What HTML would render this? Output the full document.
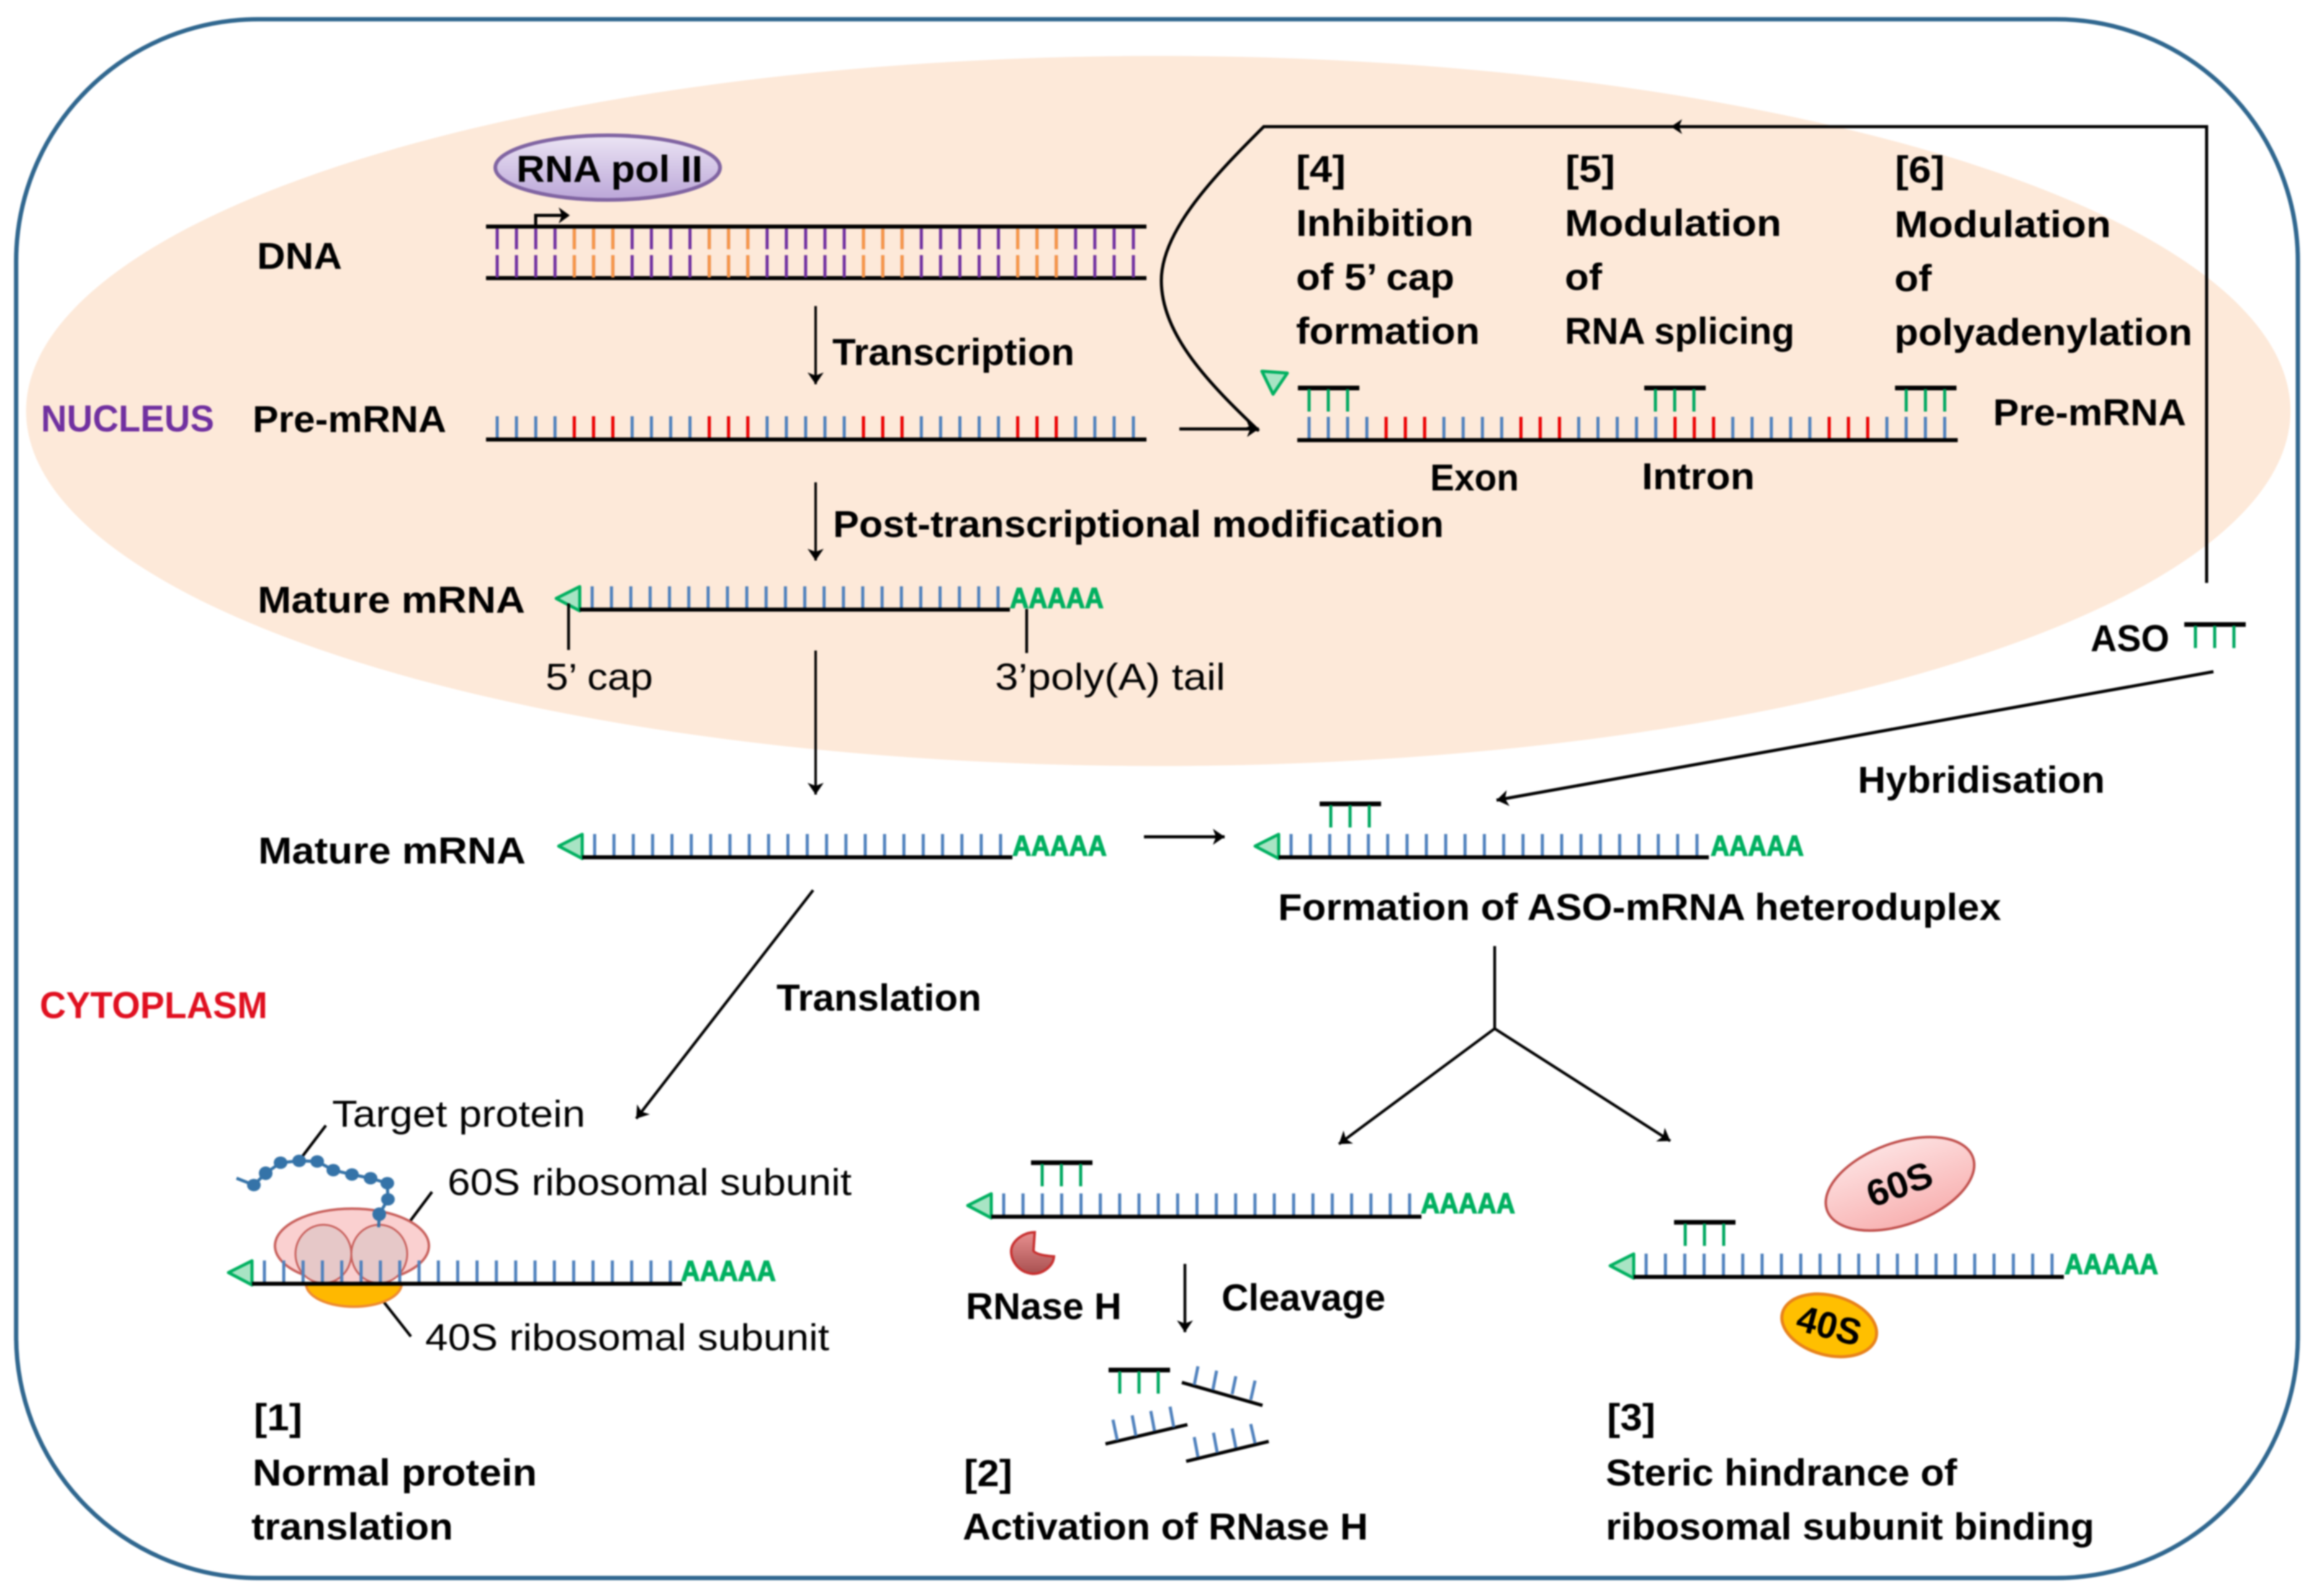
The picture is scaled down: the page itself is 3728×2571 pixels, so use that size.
<!DOCTYPE html>
<html><head><meta charset="utf-8"><style>
html,body{margin:0;padding:0;background:#fff}
svg{display:block;filter:blur(1.4px)}
text{font-family:"Liberation Sans",sans-serif;font-size:60px;fill:#000}
.b{font-weight:700}
.a{font-weight:700;font-size:46px;fill:#00b060;stroke:#00b060;stroke-width:1.5px}
.k{stroke:#000;fill:none}
.blue{stroke:#4f81bd;fill:none}
.grn{stroke:#00a860;fill:none}
</style></head><body>
<svg xmlns="http://www.w3.org/2000/svg" width="3728" height="2571" viewBox="0 0 3728 2571">
<defs>
<marker id="ar" markerUnits="userSpaceOnUse" markerWidth="32" markerHeight="32" refX="21" refY="16" orient="auto" viewBox="0 0 32 32"><path d="M2 3L21 16L2 29L7 16Z" fill="#000"/></marker>
<linearGradient id="gp" x1="0" y1="0" x2="0" y2="1"><stop offset="0" stop-color="#ece5f4"/><stop offset="1" stop-color="#bba6d8"/></linearGradient>
<linearGradient id="gr" x1="0" y1="0" x2="0" y2="1"><stop offset="0" stop-color="#fde0e0"/><stop offset="1" stop-color="#f8b2b2"/></linearGradient>
<linearGradient id="gh" x1="0" y1="0" x2="0" y2="1"><stop offset="0" stop-color="#e89090"/><stop offset="1" stop-color="#a85050"/></linearGradient>
<g id="mrna">
<line x1="16.5" x2="675.5" y1="-19" y2="-19" class="blue" stroke-width="37" stroke-dasharray="5 26.14"/>
<path d="M-1 -37L-39 -18L-1 2Z" fill="#a8e4c4" stroke="#00b060" stroke-width="5" stroke-linejoin="round"/>
<line x1="-1" x2="692" y1="0" y2="0" class="k" stroke-width="6.5"/>
</g>
<g id="aso">
<line x1="0" x2="99" y1="0" y2="0" class="k" stroke-width="7.5"/>
<path d="M18 2V38M49 2V38M80 2V38" class="grn" stroke-width="5"/>
</g>
</defs>

<rect width="3728" height="2571" fill="#fff"/>
<ellipse cx="1866" cy="662" rx="1824" ry="572" fill="#fde9d9"/>
<rect x="26" y="31" width="3676" height="2511" rx="390" ry="390" fill="none" stroke="#30678f" stroke-width="7"/>

<!-- RNA pol II -->
<ellipse cx="979" cy="270" rx="181" ry="52" fill="url(#gp)" stroke="#8064a2" stroke-width="6"/>
<text class="b" x="832" y="293" textLength="300" lengthAdjust="spacingAndGlyphs">RNA pol II</text>

<!-- DNA -->
<line x1="783" x2="1847" y1="365" y2="365" class="k" stroke-width="6.5"/>
<line x1="783" x2="1847" y1="448" y2="448" class="k" stroke-width="6.5"/>
<g stroke-width="33" fill="none" stroke="#7030a0" stroke-dasharray="5 26.06">
<line x1="798.5" x2="1828.5" y1="385" y2="385"/>
<line x1="798.5" x2="1828.5" y1="429" y2="429" stroke-width="36"/>
</g>
<g stroke="#f79646" fill="none" stroke-dasharray="5 26.06" stroke-width="33">
<path d="M922.7 385H989.9M1140.2 385H1207.3M1388.6 385H1455.8M1637.1 385H1704.2"/>
<path d="M922.7 429H989.9M1140.2 429H1207.3M1388.6 429H1455.8M1637.1 429H1704.2" stroke-width="36"/>
</g>
<path d="M863 366V347H912" class="k" stroke-width="5"/>
<path d="M900 334L918 347L900 360L905 347Z" fill="#000"/>
<text class="b" x="414" y="433" textLength="137" lengthAdjust="spacingAndGlyphs">DNA</text>

<!-- arrows left column -->
<line x1="1314" y1="493" x2="1314" y2="619" class="k" stroke-width="4" marker-end="url(#ar)"/>
<text class="b" x="1341" y="588" textLength="390" lengthAdjust="spacingAndGlyphs">Transcription</text>

<!-- pre-mRNA left -->
<line x1="798.5" x2="1828.5" y1="689" y2="689" class="blue" stroke-width="37" stroke-dasharray="5 26.06"/>
<path d="M922.7 689H989.9M1140.2 689H1207.3M1388.6 689H1455.8M1637.1 689H1704.2" fill="none" stroke="#f00000" stroke-width="37" stroke-dasharray="5 26.06"/>
<line x1="783" x2="1847" y1="708" y2="708" class="k" stroke-width="6.5"/>
<text class="b" x="66" y="695" textLength="279" lengthAdjust="spacingAndGlyphs" style="fill:#7030a0">NUCLEUS</text>
<text class="b" x="407" y="696" textLength="312" lengthAdjust="spacingAndGlyphs">Pre-mRNA</text>

<line x1="1314" y1="777" x2="1314" y2="903" class="k" stroke-width="4" marker-end="url(#ar)"/>
<text class="b" x="1342" y="865" textLength="984" lengthAdjust="spacingAndGlyphs">Post-transcriptional modification</text>

<!-- mature mRNA nucleus -->
<use href="#mrna" x="935" y="982"/>
<text class="a" x="1627" y="979" textLength="151" lengthAdjust="spacingAndGlyphs">AAAAA</text>
<text class="b" x="415" y="987" textLength="431" lengthAdjust="spacingAndGlyphs">Mature mRNA</text>
<path d="M916 972V1047M1654 981V1052" class="k" stroke-width="4.5"/>
<text x="879" y="1111" textLength="173" lengthAdjust="spacingAndGlyphs">5’ cap</text>
<text x="1603" y="1111" textLength="371" lengthAdjust="spacingAndGlyphs">3’poly(A) tail</text>
<line x1="1314" y1="1048" x2="1314" y2="1280" class="k" stroke-width="4" marker-end="url(#ar)"/>

<!-- big ASO path -->
<path d="M3555 939V204H2036C1960 280 1871 370 1871 452C1871 540 1950 620 2028 694" class="k" stroke-width="5"/>
<path d="M2710 192L2692 204L2710 216L2705 204Z" fill="#000"/>
<path d="M2006 672L2029 695L1998 692L2012 687Z" fill="#000"/>
<line x1="1900" y1="691" x2="2028" y2="691" class="k" stroke-width="5" marker-end="url(#ar)"/>

<text class="b" x="2088" y="293" textLength="80" lengthAdjust="spacingAndGlyphs">[4]</text>
<text class="b" x="2088" y="380" textLength="286" lengthAdjust="spacingAndGlyphs">Inhibition</text>
<text class="b" x="2088" y="467" textLength="255" lengthAdjust="spacingAndGlyphs">of 5’ cap</text>
<text class="b" x="2088" y="554" textLength="296" lengthAdjust="spacingAndGlyphs">formation</text>
<text class="b" x="2522" y="293" textLength="80" lengthAdjust="spacingAndGlyphs">[5]</text>
<text class="b" x="2521" y="380" textLength="349" lengthAdjust="spacingAndGlyphs">Modulation</text>
<text class="b" x="2521" y="467" textLength="60" lengthAdjust="spacingAndGlyphs">of</text>
<text class="b" x="2521" y="554" textLength="370" lengthAdjust="spacingAndGlyphs">RNA splicing</text>
<text class="b" x="3053" y="294" textLength="80" lengthAdjust="spacingAndGlyphs">[6]</text>
<text class="b" x="3052" y="382" textLength="349" lengthAdjust="spacingAndGlyphs">Modulation</text>
<text class="b" x="3052" y="469" textLength="60" lengthAdjust="spacingAndGlyphs">of</text>
<text class="b" x="3052" y="556" textLength="480" lengthAdjust="spacingAndGlyphs">polyadenylation</text>

<!-- pre-mRNA right -->
<path d="M2033 598L2074 601L2051 635Z" fill="#a8e4c4" stroke="#00b060" stroke-width="5" stroke-linejoin="round"/>
<use href="#aso" x="2091" y="625"/>
<use href="#aso" x="2649" y="625"/>
<use href="#aso" x="3053" y="625"/>
<line x1="2106.5" x2="3135.5" y1="690" y2="690" class="blue" stroke-width="37" stroke-dasharray="5 26.03"/>
<path d="M2230.6 690H2297.7M2447.8 690H2514.9M2696.1 690H2763.3M2944.5 690H3011.5" fill="none" stroke="#f00000" stroke-width="37" stroke-dasharray="5 26.03"/>
<line x1="2090" x2="3154" y1="709" y2="709" class="k" stroke-width="6.5"/>
<text class="b" x="3211" y="685" textLength="311" lengthAdjust="spacingAndGlyphs">Pre-mRNA</text>
<text class="b" x="2304" y="790" textLength="143" lengthAdjust="spacingAndGlyphs">Exon</text>
<text class="b" x="2645" y="788" textLength="182" lengthAdjust="spacingAndGlyphs">Intron</text>

<!-- ASO right -->
<text class="b" x="3368" y="1049" textLength="127" lengthAdjust="spacingAndGlyphs">ASO</text>
<use href="#aso" x="3519" y="1006" />
<line x1="3566" y1="1082" x2="2411" y2="1289" class="k" stroke-width="5" marker-end="url(#ar)"/>
<text class="b" x="2993" y="1277" textLength="398" lengthAdjust="spacingAndGlyphs">Hybridisation</text>

<!-- lower mature -->
<text class="b" x="416" y="1391" textLength="431" lengthAdjust="spacingAndGlyphs">Mature mRNA</text>
<use href="#mrna" x="939" y="1381"/>
<text class="a" x="1631" y="1378" textLength="152" lengthAdjust="spacingAndGlyphs">AAAAA</text>
<line x1="1843" y1="1348" x2="1973" y2="1348" class="k" stroke-width="5" marker-end="url(#ar)"/>
<use href="#mrna" x="2061" y="1381"/>
<use href="#aso" x="2126" y="1295"/>
<text class="a" x="2756" y="1378" textLength="150" lengthAdjust="spacingAndGlyphs">AAAAA</text>
<text class="b" x="2059" y="1482" textLength="1165" lengthAdjust="spacingAndGlyphs">Formation of ASO-mRNA heteroduplex</text>

<!-- fork -->
<path d="M2408 1524V1657" class="k" stroke-width="4.5"/>
<line x1="2408" y1="1657" x2="2157" y2="1843" class="k" stroke-width="4.5" marker-end="url(#ar)"/>
<line x1="2408" y1="1657" x2="2691" y2="1838" class="k" stroke-width="4.5" marker-end="url(#ar)"/>

<text class="b" x="64" y="1640" textLength="367" lengthAdjust="spacingAndGlyphs" style="fill:#e01020">CYTOPLASM</text>
<text class="b" x="1251" y="1628" textLength="330" lengthAdjust="spacingAndGlyphs">Translation</text>
<line x1="1310" y1="1434" x2="1025" y2="1802" class="k" stroke-width="4.5" marker-end="url(#ar)"/>

<!-- ribosome -->
<text x="535" y="1815" textLength="408" lengthAdjust="spacingAndGlyphs">Target protein</text>
<text x="721" y="1925" textLength="651" lengthAdjust="spacingAndGlyphs">60S ribosomal subunit</text>
<text x="685" y="2175" textLength="651" lengthAdjust="spacingAndGlyphs">40S ribosomal subunit</text>
<path d="M525 1813L487 1863M696 1920L657 1972M618 2097L662 2153" class="k" stroke-width="4.5"/>
<path d="M493 2068A77 37 0 0 0 647 2068Z" fill="#ffb800" stroke="#ee8a30" stroke-width="4"/>
<ellipse cx="567" cy="2007" rx="124" ry="60" fill="#fad0d0" stroke="#c8605c" stroke-width="4"/>
<ellipse cx="521" cy="2020" rx="45" ry="47" fill="#e6c8c8" stroke="#c8605c" stroke-width="3"/>
<ellipse cx="611" cy="2020" rx="45" ry="47" fill="#e6c8c8" stroke="#c8605c" stroke-width="3"/>
<path d="M381 1898L409 1909L428 1890L452 1873L482 1870L511 1871L537 1885L567 1892L597 1898L624 1906L625 1932L611 1956L610 1977" fill="none" stroke="#3573a8" stroke-width="5"/>
<g fill="#3573a8"><ellipse cx="409" cy="1909" rx="11" ry="10"/><ellipse cx="428" cy="1890" rx="11" ry="11"/><ellipse cx="452" cy="1873" rx="11" ry="10"/><ellipse cx="482" cy="1870" rx="11" ry="10"/><ellipse cx="511" cy="1871" rx="11" ry="10"/><ellipse cx="537" cy="1885" rx="11" ry="10"/><ellipse cx="567" cy="1892" rx="11" ry="10"/><ellipse cx="597" cy="1898" rx="11" ry="10"/><ellipse cx="624" cy="1906" rx="11" ry="10"/><ellipse cx="625" cy="1932" rx="11" ry="10"/><ellipse cx="611" cy="1956" rx="11" ry="11"/></g>
<use href="#mrna" x="407" y="2068"/>
<text class="a" x="1097" y="2063" textLength="153" lengthAdjust="spacingAndGlyphs">AAAAA</text>

<text class="b" x="409" y="2304" textLength="78" lengthAdjust="spacingAndGlyphs">[1]</text>
<text class="b" x="407" y="2393" textLength="458" lengthAdjust="spacingAndGlyphs">Normal protein</text>
<text class="b" x="405" y="2480" textLength="325" lengthAdjust="spacingAndGlyphs">translation</text>

<!-- RNase H -->
<use href="#mrna" x="1598" y="1960"/>
<use href="#aso" x="1661" y="1873"/>
<text class="a" x="2289" y="1954" textLength="152" lengthAdjust="spacingAndGlyphs">AAAAA</text>
<path d="M1667 1985L1665 2015Q1670 2022 1698 2024C1697 2040 1680 2052 1664 2052C1640 2050 1629 2030 1629 2015C1630 1998 1650 1985 1667 1985Z" fill="url(#gh)" stroke="#c83030" stroke-width="4"/>
<text class="b" x="1556" y="2125" textLength="251" lengthAdjust="spacingAndGlyphs">RNase H</text>
<line x1="1909" y1="2036" x2="1909" y2="2146" class="k" stroke-width="4.5" marker-end="url(#ar)"/>
<text class="b" x="1968" y="2111" textLength="264" lengthAdjust="spacingAndGlyphs">Cleavage</text>
<use href="#aso" x="1786" y="2207"/>
<path d="M1904 2227L2034 2264M1781 2326L1913 2295M1911 2354L2044 2322" class="k" stroke-width="5.5"/>
<path d="M1924 2231L1930 2201M1954 2239L1960 2208M1985 2246L1991 2217M2015 2255L2022 2224M1800 2320L1793 2287M1830 2313L1824 2280M1860 2305L1854 2273M1891 2299L1885 2266M1930 2347L1924 2315M1961 2340L1955 2308M1991 2332L1985 2301M2022 2325L2015 2294" class="blue" stroke-width="5"/>
<text class="b" x="1553" y="2394" textLength="78" lengthAdjust="spacingAndGlyphs">[2]</text>
<text class="b" x="1551" y="2480" textLength="653" lengthAdjust="spacingAndGlyphs">Activation of RNase H</text>

<!-- steric -->
<ellipse cx="3061" cy="1907" rx="125" ry="66" transform="rotate(-20 3061 1907)" fill="url(#gr)" stroke="#c0504d" stroke-width="4"/>
<text class="b" x="3060" y="1928" text-anchor="middle" transform="rotate(-20 3061 1907)" textLength="108" lengthAdjust="spacingAndGlyphs">60S</text>
<use href="#mrna" x="2633" y="2057"/>
<use href="#aso" x="2697" y="1969"/>
<text class="a" x="3326" y="2052" textLength="151" lengthAdjust="spacingAndGlyphs">AAAAA</text>
<ellipse cx="2947" cy="2135" rx="78" ry="48" transform="rotate(15 2947 2135)" fill="#ffbf00" stroke="#e8821a" stroke-width="5"/>
<text class="b" x="2947" y="2156" text-anchor="middle" transform="rotate(15 2947 2135)" textLength="105" lengthAdjust="spacingAndGlyphs">40S</text>
<text class="b" x="2589" y="2304" textLength="78" lengthAdjust="spacingAndGlyphs">[3]</text>
<text class="b" x="2587" y="2393" textLength="566" lengthAdjust="spacingAndGlyphs">Steric hindrance of</text>
<text class="b" x="2587" y="2480" textLength="787" lengthAdjust="spacingAndGlyphs">ribosomal subunit binding</text>
</svg>
</body></html>
